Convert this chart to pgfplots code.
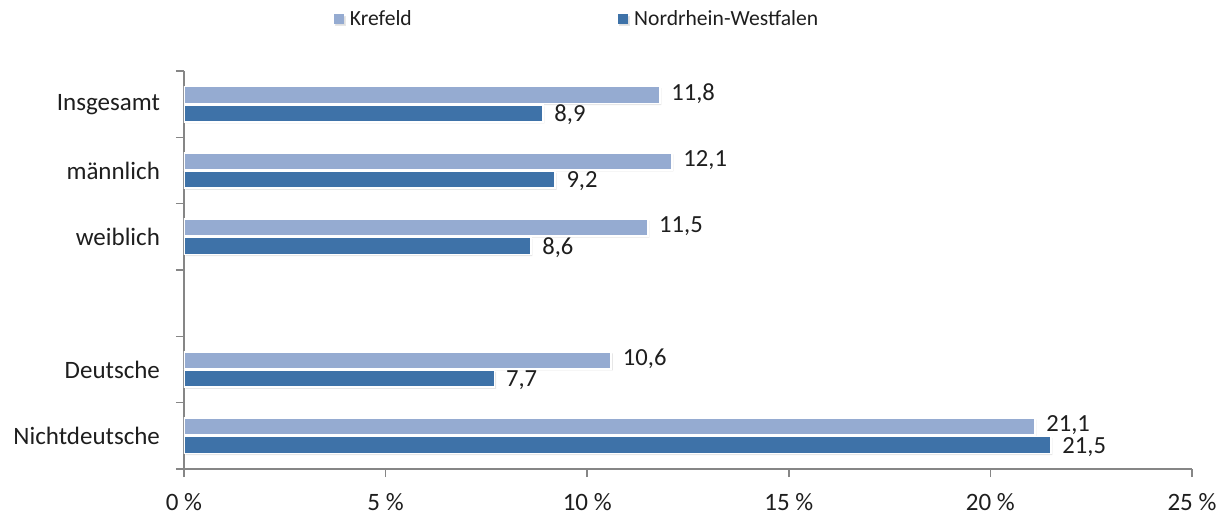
\documentclass[border=0pt]{standalone}
\usepackage{pgfplots}
\pgfplotsset{compat=1.18}
\usepackage{fontspec}
\setmainfont{Carlito}
\usetikzlibrary{shadows}

\definecolor{kref}{RGB}{149,171,209}
\definecolor{nrw}{RGB}{62,114,168}
\definecolor{axgray}{RGB}{134,134,134}
\definecolor{txt}{RGB}{30,30,30}

% y: 5 = Insgesamt ... 0 = Nichtdeutsche, 2 = leer
\pgfplotstableread{
y krefeld nrw
5 11.8 8.9
4 12.1 9.2
3 11.5 8.6
1 10.6 7.7
0 21.1 21.5
}\data

\begin{document}
\begin{tikzpicture}
\begin{axis}[
  scale only axis, width=504pt, height=199pt,
  xmin=0, xmax=25, ymin=-0.5, ymax=5.5,
  xbar, bar width=8.5pt,
  axis x line*=bottom, axis y line*=left,
  axis line style={axgray, line width=0.8pt},
  tick align=outside,
  major tick length=4pt, minor tick length=4pt,
  tick style={axgray, line width=0.8pt},
  major y tick style={draw=none},
  xtick={0,5,...,25},
  xticklabels={0 \%,5 \%,10 \%,15 \%,20 \%,25 \%},
  ytick={0,1,3,4,5},
  yticklabels={Nichtdeutsche,Deutsche,weiblich,männlich,Insgesamt},
  minor ytick={-0.5,0.5,...,5.5},
  ticklabel style={font=\fontsize{12.5}{15}\selectfont, text=txt},
  yticklabel style={xshift=-4.5pt},
  xticklabel style={yshift=-7.3pt, inner ysep=0.5pt, text depth=0pt},
  legend columns=2,
  legend style={at={(axis description cs:0.148,1.13)}, anchor=west,
    draw=none, fill=none, inner sep=0pt,
    font=\fontsize{10.8}{13}\selectfont, text=txt,
    nodes={inner xsep=3pt},
    /tikz/every even column/.append style={column sep=100pt}},
  legend image code/.code={\fill[#1,draw=none] (0pt,-2.6pt) rectangle (5.2pt,2.6pt);},
  nodes near coords, nodes near coords align=horizontal,
  every node near coord/.append style={font=\fontsize{12.3}{15}\selectfont, text=txt, xshift=2pt},
  /pgf/number format/.cd, use comma, fixed, fixed zerofill, precision=1, assume math mode=true,
]
\addplot[fill=kref, draw=white, line width=0.9pt, bar shift=4.6pt,
  every node near coord/.append style={yshift=0.8pt},
  drop shadow={shadow xshift=0.8pt, shadow yshift=-0.8pt, opacity=0.25}]
  table[x=krefeld, y=y] {\data};
\addlegendentry{Krefeld}
\addplot[fill=nrw, draw=white, line width=0.9pt, bar shift=-4.6pt,
  every node near coord/.append style={yshift=-0.8pt},
  drop shadow={shadow xshift=0.8pt, shadow yshift=-0.8pt, opacity=0.25}]
  table[x=nrw, y=y] {\data};
\addlegendentry{Nordrhein-Westfalen}
\end{axis}
\pgfresetboundingbox
\path (-92pt,-23.5pt) rectangle (521.5pt,234.5pt);
\end{tikzpicture}
\end{document}
